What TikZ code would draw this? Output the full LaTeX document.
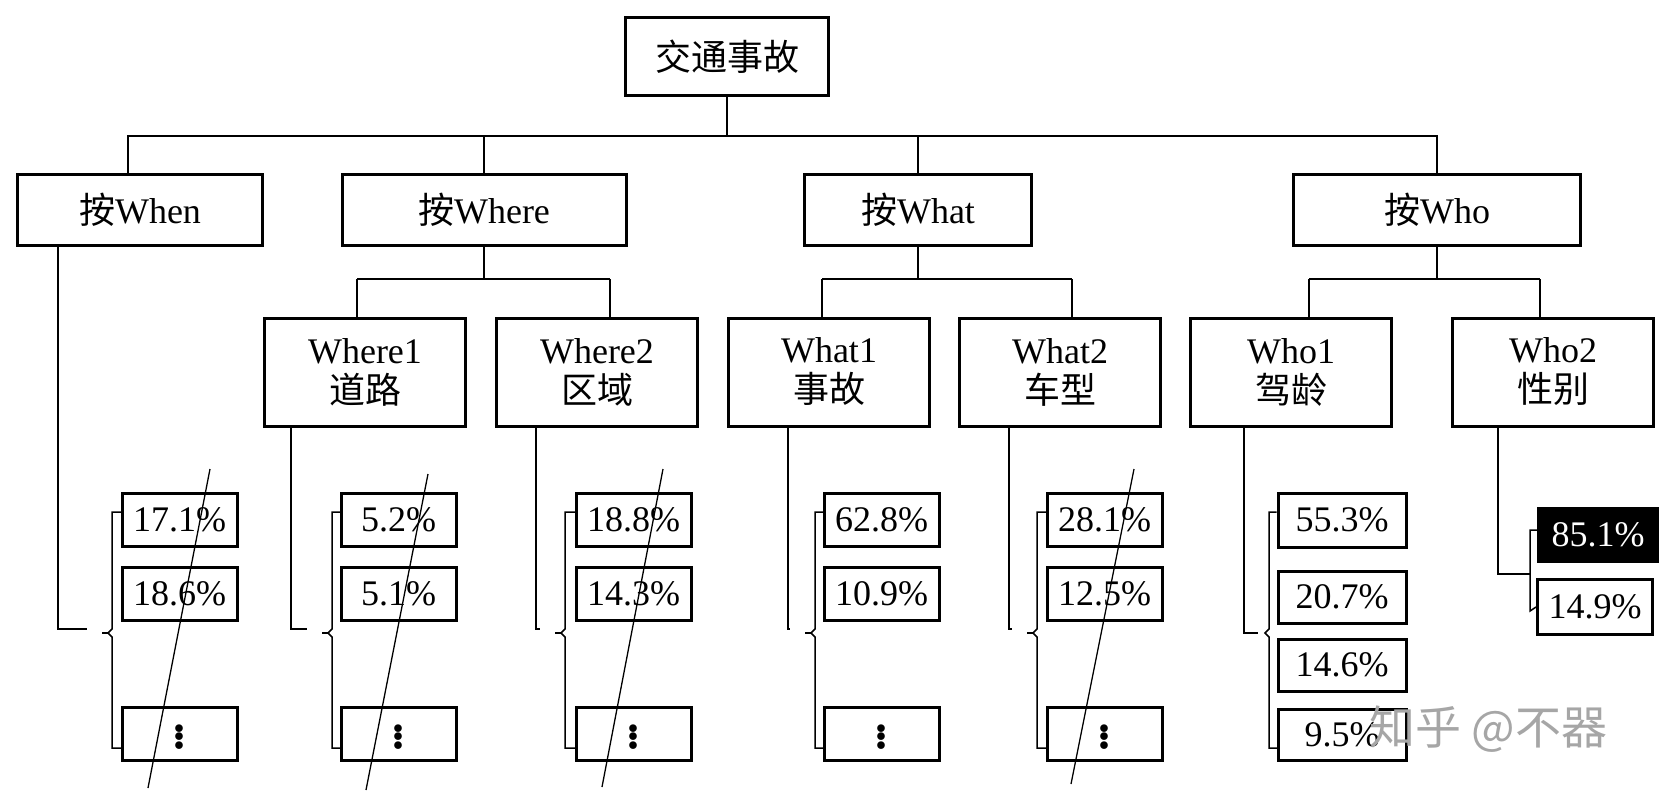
\documentclass[tikz,border=0pt]{standalone}
\usepackage{fontspec}
\setmainfont{Liberation Serif}
\newfontfamily\cjk{Noto Sans CJK SC}
\begin{document}
\begin{tikzpicture}[x=1pt,y=-1pt,
  box/.style={draw,line width=3pt,inner sep=0pt,font=\fontsize{36}{40}\selectfont,align=center},
  leaf/.style={box,minimum width=115pt,minimum height=53pt},
  ln/.style={line width=1.5pt},
  cut/.style={line width=1.3pt}]
\useasboundingbox (0,0) rectangle (1671,797);
% top
\node[box,minimum width=203pt,minimum height=78pt] (top) at (727,57) {{\cjk 交通事故}};
\node[box,minimum width=245pt,minimum height=71pt] (when) at (140,210) {{\cjk 按}When};
\node[box,minimum width=284pt,minimum height=71pt] (where) at (484,210) {{\cjk 按}Where};
\node[box,minimum width=227pt,minimum height=71pt] (what) at (918,210) {{\cjk 按}What};
\node[box,minimum width=287pt,minimum height=71pt] (who) at (1437,210) {{\cjk 按}Who};
\coordinate (b1) at (128,136); \coordinate (b2) at (1437,136);
\draw[ln] (top.south) -- (727,136);
\draw[ln] (when.north -| b1) -- (b1) -- (b2) -- (who.north);
\draw[ln] (where.north) -- (484,136);
\draw[ln] (what.north) -- (918,136);
% level 3
\def\lvthree#1#2#3#4{\node[box,minimum width=201pt,minimum height=108pt] (#1) at (#2,372) {#3\\{\cjk #4}};}
\lvthree{w1}{365}{Where1}{道路}
\lvthree{w2}{597}{Where2}{区域}
\lvthree{t1}{829}{What1}{事故}
\lvthree{t2}{1060}{What2}{车型}
\lvthree{o1}{1291}{Who1}{驾龄}
\lvthree{o2}{1553}{Who2}{性别}
\draw[ln] (where.south) -- (484,279) (357,279) -- (610,279);
\draw[ln] (357,279) -- (357,318) (610,279) -- (610,318);
\draw[ln] (what.south) -- (918,279) (822,279) -- (1072,279);
\draw[ln] (822,279) -- (822,318) (1072,279) -- (1072,318);
\draw[ln] (who.south) -- (1437,279) (1309,279) -- (1540,279);
\draw[ln] (1309,279) -- (1309,318) (1540,279) -- (1540,318);
\def\vd{{\fontsize{64}{64}\selectfont$\vdots$}}
\def\col#1#2#3#4#5#6#7{%
  \node[leaf] (#1a) at (#2+57.5,520) {#6};
  \node[leaf] (#1b) at (#2+57.5,594) {#7};
  \node[leaf] (#1c) at (#2+57.5,734) {\vd};
  \draw[ln] (#2,512) -- (#3,512) -- (#3,629) -- (#3-4,633) -- (#3,637) -- (#3,748) -- (#2,748);
  \draw[ln] (#3-10,633) -- (#3-4,633);
  \draw[ln] (#4,#5) -- (#4,629) -- (#3-25,629);}
\col{c1}{122}{112}{58}{245}{17.1\%}{18.6\%}
\col{c2}{341}{332}{291}{426}{5.2\%}{5.1\%}
\col{c3}{576}{565}{536}{426}{18.8\%}{14.3\%}
\col{c4}{824}{815}{788}{426}{62.8\%}{10.9\%}
\col{c5}{1047}{1037}{1009}{426}{28.1\%}{12.5\%}
% slashes
\draw[cut] (210,469) -- (148,788);
\draw[cut] (428,474) -- (366,790);
\draw[cut] (663,469) -- (602,787);
\draw[cut] (1134,469) -- (1071,784);
% Who1
\node[box,minimum width=128pt,minimum height=54pt] (d1) at (1342,520) {55.3\%};
\node[box,minimum width=128pt,minimum height=52pt] (d2) at (1342,597) {20.7\%};
\node[box,minimum width=128pt,minimum height=52pt] (d3) at (1342,665) {14.6\%};
\node[box,minimum width=128pt,minimum height=51pt] (d4) at (1342,735) {9.5\%};
\draw[ln] (d1.west) ++(0,-8) -- (1269,512) -- (1269,629) -- (1265,633) -- (1269,637) -- (1269,748) -- (1278,748);
\draw[ln] (1244,426) -- (1244,633) -- (1258,633);
% Who2
\node[box,fill=black,text=white,minimum width=119pt,minimum height=53pt] (s1) at (1598,535) {85.1\%};
\node[box,minimum width=115pt,minimum height=55pt] (s2) at (1595,607) {14.9\%};
\draw[ln] (s1.west) ++(0,-5) -- (1530,530) -- (1530,611) -- (s2.west);
\draw[ln] (1498,426) -- (1498,574) -- (1530,574);
% watermark
\node[text=black!35,font=\cjk\fontsize{46}{50}\selectfont,anchor=west] (wm) at (1366,729) {知乎 @不器};
\end{tikzpicture}
\end{document}
